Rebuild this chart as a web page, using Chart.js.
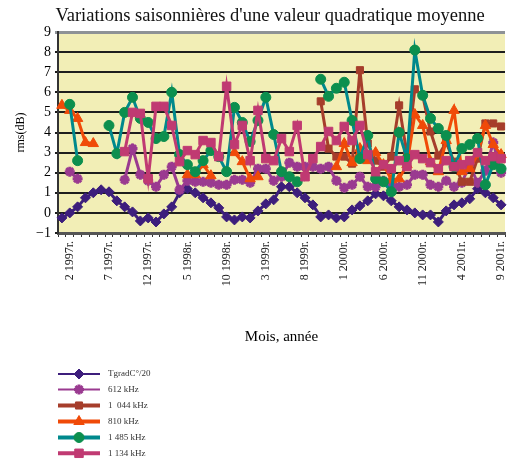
<!DOCTYPE html>
<html>
<head>
<meta charset="utf-8">
<script src="https://cdn.jsdelivr.net/npm/chart.js@4/dist/chart.umd.min.js"></script>
<style>
html,body{margin:0;padding:0;background:#fff;overflow:hidden;}
#wrap{width:513px;height:464px;position:relative;}
</style>
</head>
<body>
<div id="wrap"><canvas id="c" width="513" height="464"></canvas></div>
<script>
// ---- categories (months) ----
const months = [
 '1 1997r.','2 1997r.','3 1997r.','4 1997r.','5 1997r.','6 1997r.','7 1997r.','8 1997r.','9 1997r.','10 1997r.','11 1997r.','12 1997r.',
 '1 1998r.','2 1998r.','3 1998r.','4 1998r.','5 1998r.','6 1998r.','7 1998r.','8 1998r.','9 1998r.','10 1998r.','11 1998r.','12 1998r.',
 '1 1999r.','2 1999r.','3 1999r.','4 1999r.','5 1999r.','6 1999r.','7 1999r.','8 1999r.','9 1999r.','10 1999r.','11 1999r.','12 1999r.',
 '1 2000r.','2 2000r.','3 2000r.','4 2000r.','5 2000r.','6 2000r.','7 2000r.','8 2000r.','9 2000r.','10 2000r.','11 2000r.','12 2000r.',
 '1 2001r.','2 2001r.','3 2001r.','4 2001r.','5 2001r.','6 2001r.','7 2001r.','8 2001r.','9 2001r.'
];
const shownLabels = ['2 1997r.','7 1997r.','12 1997r.','5 1998r.','10 1998r.','3 1999r.','8 1999r.','1 2000r.','6 2000r.','11 2000r.','4 2001r.','9 2001r.'];
const yTicks = [-1,0,1,2,3,4,5,6,7,8,9];

// ---- series ----
const tgrad = [-0.25,0.0,0.3,0.75,1.0,1.15,1.05,0.6,0.3,0.05,-0.4,-0.25,
 -0.45,-0.05,0.3,1.0,1.2,1.0,0.75,0.5,0.25,-0.2,-0.35,-0.2,
 -0.25,0.1,0.45,0.65,1.3,1.3,1.0,0.75,0.4,-0.2,-0.1,-0.25,
 -0.2,0.15,0.35,0.6,0.95,0.85,0.6,0.3,0.15,0.0,-0.1,-0.1,
 -0.45,0.1,0.4,0.5,0.7,1.2,1.0,0.75,0.4];
const k612 = [null,2.05,1.7,null,null,null,null,null,1.65,3.2,1.9,1.6,
 1.3,1.9,2.3,1.15,1.6,1.55,1.55,1.5,1.4,1.4,1.65,1.65,
 1.5,2.2,2.2,1.6,1.8,2.5,2.3,2.3,2.3,2.2,2.3,1.6,
 1.25,1.4,1.8,1.3,1.3,1.6,1.4,1.3,1.4,1.9,1.9,1.4,
 1.3,1.6,1.3,1.5,2.4,1.5,2.1,3.5,2.0];
const k1044 = [null,null,null,null,null,null,null,null,null,null,null,null,
 null,null,null,null,null,null,null,null,null,null,null,null,
 null,null,null,null,null,null,null,null,null,5.55,3.2,2.8,
 2.8,2.45,7.1,3.45,2.6,2.3,2.8,5.35,2.9,6.15,5.85,4.05,
 2.85,3.5,2.55,1.55,1.55,2.7,4.45,4.45,4.3];
const k810 = [5.35,5.1,4.7,3.5,3.45,null,null,null,null,null,null,null,
 null,null,null,null,1.9,1.9,2.4,1.85,null,null,3.0,2.55,
 1.7,1.8,null,null,null,null,null,null,null,null,null,2.3,
 3.45,2.5,3.2,2.6,3.0,2.4,1.65,1.7,2.4,4.9,4.35,2.55,
 2.05,3.6,5.1,2.05,2.2,2.9,4.35,3.4,2.9];
const k1485 = [null,5.4,2.6,null,null,null,4.35,2.95,5.0,5.75,4.7,4.5,
 3.7,3.8,6.0,2.9,2.4,2.05,2.6,3.1,2.8,2.05,5.25,4.5,
 3.55,4.6,5.75,3.9,2.05,1.8,1.55,null,null,6.65,5.8,6.2,
 6.5,4.6,2.7,3.85,1.7,1.55,1.05,4.0,2.7,8.1,5.85,4.7,
 4.2,3.85,2.3,3.2,3.4,3.7,1.4,2.4,2.2];
const k1134 = [null,null,null,null,null,null,null,null,3.05,5.0,4.95,1.7,
 5.3,5.3,4.35,2.55,3.1,2.9,3.6,3.5,2.8,6.3,3.4,4.35,
 2.6,5.1,2.7,2.6,3.7,3.05,4.35,1.8,2.7,3.3,4.05,3.6,
 4.3,3.6,4.35,2.9,2.05,2.4,2.2,2.6,2.3,2.9,2.7,2.5,
 2.2,2.6,2.3,2.4,2.6,3.0,2.6,2.8,2.7];

const SERIF = '"Liberation Serif","Times New Roman",serif';

function ds(label, data, line, fill, style, radius, pbw, order, lw) {
  return {label, data, borderColor: line, backgroundColor: fill,
    pointBackgroundColor: fill, pointBorderColor: fill, pointStyle: style,
    pointRadius: radius, pointBorderWidth: pbw, borderWidth: 3, order,
    spanGaps: false, tension: 0, legendLineWidth: lw};
}

const datasets = [
  ds('TgradC°/20', tgrad, '#3D1E7C', '#3D1E7C', 'rectRot', 5, 1, 6, 2),
  ds('612 kHz', k612, '#9A3A90', '#9A3A90', 'star', 5, 3, 5, 2),
  ds('1  044 kHz', k1044, '#A63D2B', '#A63D2B', 'rect', 5, 1, 4, 4),
  ds('810 kHz', k810, '#F04A08', '#F04A08', 'triangle', 6, 1, 3, 4),
  ds('1 485 kHz', k1485, '#00898C', '#0C8F4E', 'circle', 5, 1, 2, 4),
  ds('1 134 kHz', k1134, '#C03A72', '#C03A72', 'rect', 6, 1, 1, 4)
];

const bgPlugin = {
  id: 'bg',
  beforeDraw(chart) {
    const {ctx, chartArea: a} = chart;
    ctx.save();
    ctx.fillStyle = '#F2EEB6';
    ctx.fillRect(a.left, a.top, a.right - a.left, a.bottom - a.top);
    ctx.restore();
  }
};

const titlePlugin = {
  id: 'ttl',
  afterDraw(chart) {
    const ctx = chart.ctx;
    ctx.save();
    ctx.fillStyle = '#111';
    ctx.font = '18.5px ' + SERIF;
    ctx.textAlign = 'center';
    ctx.textBaseline = 'middle';
    ctx.fillText('Variations saisonnières d\'une valeur quadratique moyenne', 270, 16);
    ctx.restore();
  }
};

const legendPlugin = {
  id: 'sideLegend',
  afterDraw(chart) {
    const ctx = chart.ctx;
    const rows = [374, 389.5, 405.5, 421.5, 437.5, 453.3];
    chart.data.datasets.forEach((d, k) => {
      const y = rows[k];
      ctx.save();
      ctx.strokeStyle = d.borderColor;
      ctx.lineWidth = d.legendLineWidth;
      ctx.beginPath(); ctx.moveTo(58, y); ctx.lineTo(100, y); ctx.stroke();
      ctx.fillStyle = d.pointBackgroundColor;
      ctx.strokeStyle = d.pointBorderColor;
      ctx.lineWidth = d.pointBorderWidth;
      Chart.helpers.drawPoint(ctx, {pointStyle: d.pointStyle, radius: d.pointRadius, borderWidth: d.pointBorderWidth, rotation: 0}, 79, y);
      ctx.fillStyle = '#333';
      ctx.font = '9px ' + SERIF;
      ctx.textAlign = 'left';
      ctx.textBaseline = 'middle';
      ctx.fillText(d.label, 108, y);
      ctx.restore();
    });
  }
};

new Chart(document.getElementById('c'), {
  type: 'line',
  data: {labels: months, datasets},
  options: {
    responsive: false,
    animation: false,
    devicePixelRatio: 1,
    layout: {padding: {top: 32, right: 0, bottom: 116, left: 0}},
    plugins: {legend: {display: false}, tooltip: {enabled: false}, title: {display: false}},
    scales: {
      x: {
        type: 'category',
        offset: true,
        afterFit(s) { s.height = 115; s.paddingLeft = 0; s.paddingRight = 0; },
        grid: {offset: true, drawOnChartArea: false, drawTicks: true, tickLength: 4, color: '#333', lineWidth: 1},
        border: {display: true, color: '#555', width: 3},
        ticks: {
          autoSkip: false, minRotation: 90, maxRotation: 90, padding: 4,
          color: '#222', font: {family: SERIF, size: 12},
          callback(v, i) { const l = months[i]; return shownLabels.includes(l) ? l : ''; }
        },
        title: {display: true, text: 'Mois, année', color: '#000', font: {family: SERIF, size: 15}, padding: {top: 0, bottom: 2}}
      },
      y: {
        min: -1, max: 9,
        afterFit(s) { s.width = 58; s.paddingTop = 0; s.paddingBottom = 0; },
        afterBuildTicks(s) { s.ticks = yTicks.map(v => ({value: v})); },
        grid: {
          color: c => c.tick && c.tick.value === 9 ? '#8E9296' : '#1E1E1E',
          lineWidth: c => c.tick && c.tick.value === 9 ? 3 : 2,
          drawTicks: true, tickLength: 3
        },
        border: {display: true, color: '#333', width: 2},
        ticks: {
          color: '#000', font: {family: SERIF, size: 14}, padding: 4,
          callback: v => v < 0 ? '\u2212' + Math.abs(v) : String(v)
        },
        title: {display: true, text: 'rms(dB)', color: '#000', font: {family: SERIF, size: 12}, padding: {top: 14, bottom: 0}}
      }
    }
  },
  plugins: [bgPlugin, titlePlugin, legendPlugin]
});
</script>
</body>
</html>
